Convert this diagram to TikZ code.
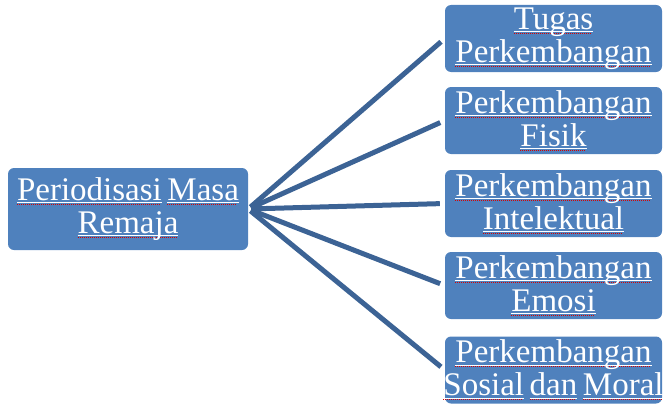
\documentclass[tikz,border=0pt]{standalone}
\usepackage{fontspec}
\setmainfont{Liberation Serif}
\usetikzlibrary{positioning}
\usepackage{xcolor}

\definecolor{boxblue}{RGB}{79,129,189}
\definecolor{linkblue}{RGB}{60,99,149}

% white underline with red spell-check dots
\newsavebox\spellbox
\newcommand\spell[1]{\leavevmode\sbox\spellbox{#1}%
  \rlap{\color{white}\rule[-2.6pt]{\wd\spellbox}{0.9pt}}%
  \rlap{\color{red!85!black}\leaders\hbox to 2pt{\rule[-4.2pt]{1pt}{0.7pt}\hfil}\hskip\wd\spellbox}%
  \usebox\spellbox}
% a line that may stick out of its box on both sides
\newcommand\fitline[1]{\makebox[\linewidth]{\spaceskip=0.17em #1}}

\begin{document}
\begin{tikzpicture}[x=1pt, y=-1pt,
  box/.style={fill=boxblue, rounded corners=6pt, inner sep=0pt, text=white,
    align=center, font=\fontsize{33}{33}\selectfont},
  link/.style={draw=linkblue, line width=5pt, shorten <=3pt, shorten >=5pt}]

\useasboundingbox (0,0) rectangle (663,404);

% Main topic
\node [box, text width=240pt, minimum height=82pt] (remaja) at (128,209)
  {\fitline{\spell{Periodisasi} \spell{Masa}}\\ \spell{Remaja}};

% Aspects
\foreach \yy/\t [count=\i] in {38.5/{\spell{Tugas}\\ \spell{Perkembangan}},
    120.5/{\spell{Perkembangan}\\ \spell{Fisik}},
    203.5/{\spell{Perkembangan}\\ \spell{Intelektual}},
    285.5/{\spell{Perkembangan}\\ \spell{Emosi}},
    370/{\spell{Perkembangan}\\ \fitline{\spell{Sosial} \spell{dan} \spell{Moral}}}}
  \node [box, text width=217pt, minimum height=67pt] (aspek-\i) at (553.5,\yy) {\t};

% Topic to aspect connections
\foreach \i in {1,...,5}
  \draw [link] (remaja.east) -- (aspek-\i.west);

\end{tikzpicture}
\end{document}
